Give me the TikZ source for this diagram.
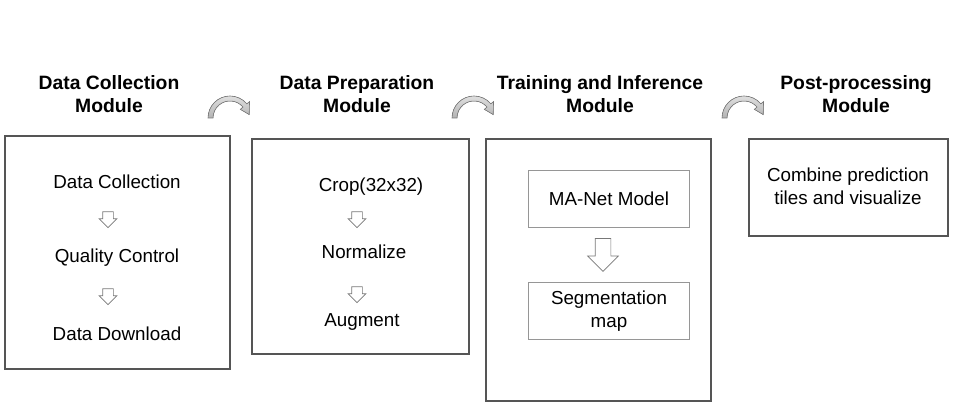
\documentclass[tikz,border=0pt]{standalone}
\usepackage{fontspec}
\setmainfont{Liberation Sans}
\usetikzlibrary{shapes.arrows, positioning}
\definecolor{boxcolor}{RGB}{85, 85, 85}
\definecolor{innercolor}{RGB}{150, 150, 150}
\definecolor{arrowcolor}{RGB}{120, 120, 120}
\tikzset{
	module/.style={draw=boxcolor, line width=0.04cm, shape=rectangle, inner sep=0pt},
	submodule/.style={draw=innercolor, line width=0.02cm, shape=rectangle, inner sep=0pt, minimum width=3.24cm, minimum height=1.16cm, align=center},
	title/.style={font=\fontsize{11}{13}\selectfont\bfseries, align=center},
	stage/.style={align=center},
	flow/.style={single arrow, draw=arrowcolor, fill=white, rotate=-90, inner xsep=0pt, inner ysep=0.1cm, minimum height=0.32cm, single arrow head extend=0.07cm},
	bigflow/.style={flow, inner ysep=0.15cm, minimum height=0.66cm, single arrow head extend=0.15cm},
	turn/.style={draw=arrowcolor, top color=gray!25, bottom color=gray!60, line width=0.012cm}
}

\begin{document}
\begin{tikzpicture}[x=0.02cm, y=0.02cm, font=\fontsize{10.7}{13}\selectfont]
	\useasboundingbox (0,0) rectangle (959,412);

	% Titles
	\node (t1) [title] at (109,317.5) {Data Collection\\Module};
	\node (t2) [title] at (357,317.5) {Data Preparation\\Module};
	\node (t3) [title] at (600,317.5) {Training and Inference\\Module};
	\node (t4) [title] at (856,317.5) {Post-processing\\Module};

	% Data collection
	\node (m1) [module, minimum width=4.5cm, minimum height=4.66cm] at (117.5,159.5) {};
	\node (collect) [stage] at (117,230) {Data Collection};
	\node (quality) [stage] at (117,154) {Quality Control};
	\node (download) [stage] at (117,78) {Data Download};
	\node (a1) [flow] at (108,195) {};
	\node (a2) [flow] at (108,118) {};

	% Data preparation
	\node (m2) [module, minimum width=4.34cm, minimum height=4.3cm] at (360.5,165.5) {};
	\node (crop) [stage] at (371,225) {Crop(32x32)};
	\node (normalize) [stage] at (364,160) {Normalize};
	\node (augment) [stage] at (362,90) {Augment};
	\node (a3) [flow] at (357,195) {};
	\node (a4) [flow] at (357,120) {};

	% Training and inference
	\node (m3) [module, minimum width=4.5cm, minimum height=5.24cm] at (598.5,142) {};
	\node (manet) [submodule] at (609,213) {MA-Net Model};
	\node (segmap) [submodule] at (609,101) {Segmentation\\map};
	\node (a5) [bigflow] at (603,161) {};

	% Post-processing
	\node (m4) [module, minimum width=3.98cm, minimum height=1.94cm] at (848.5,224.5) {};
	\node (combine) [stage] at (848,225.5) {Combine prediction\\tiles and visualize};

	% curved arrows between modules
	\foreach \cx in {230, 474, 744} {
		\fill[turn, shift={(\cx,294)}] (180:22) arc[start angle=180, end angle=40, radius=22]
			-- (40:25.5) -- (10:19.5) -- (40:13.5) -- (40:17)
			arc[start angle=40, end angle=180, radius=17] -- cycle;
	}
\end{tikzpicture}
\end{document}
